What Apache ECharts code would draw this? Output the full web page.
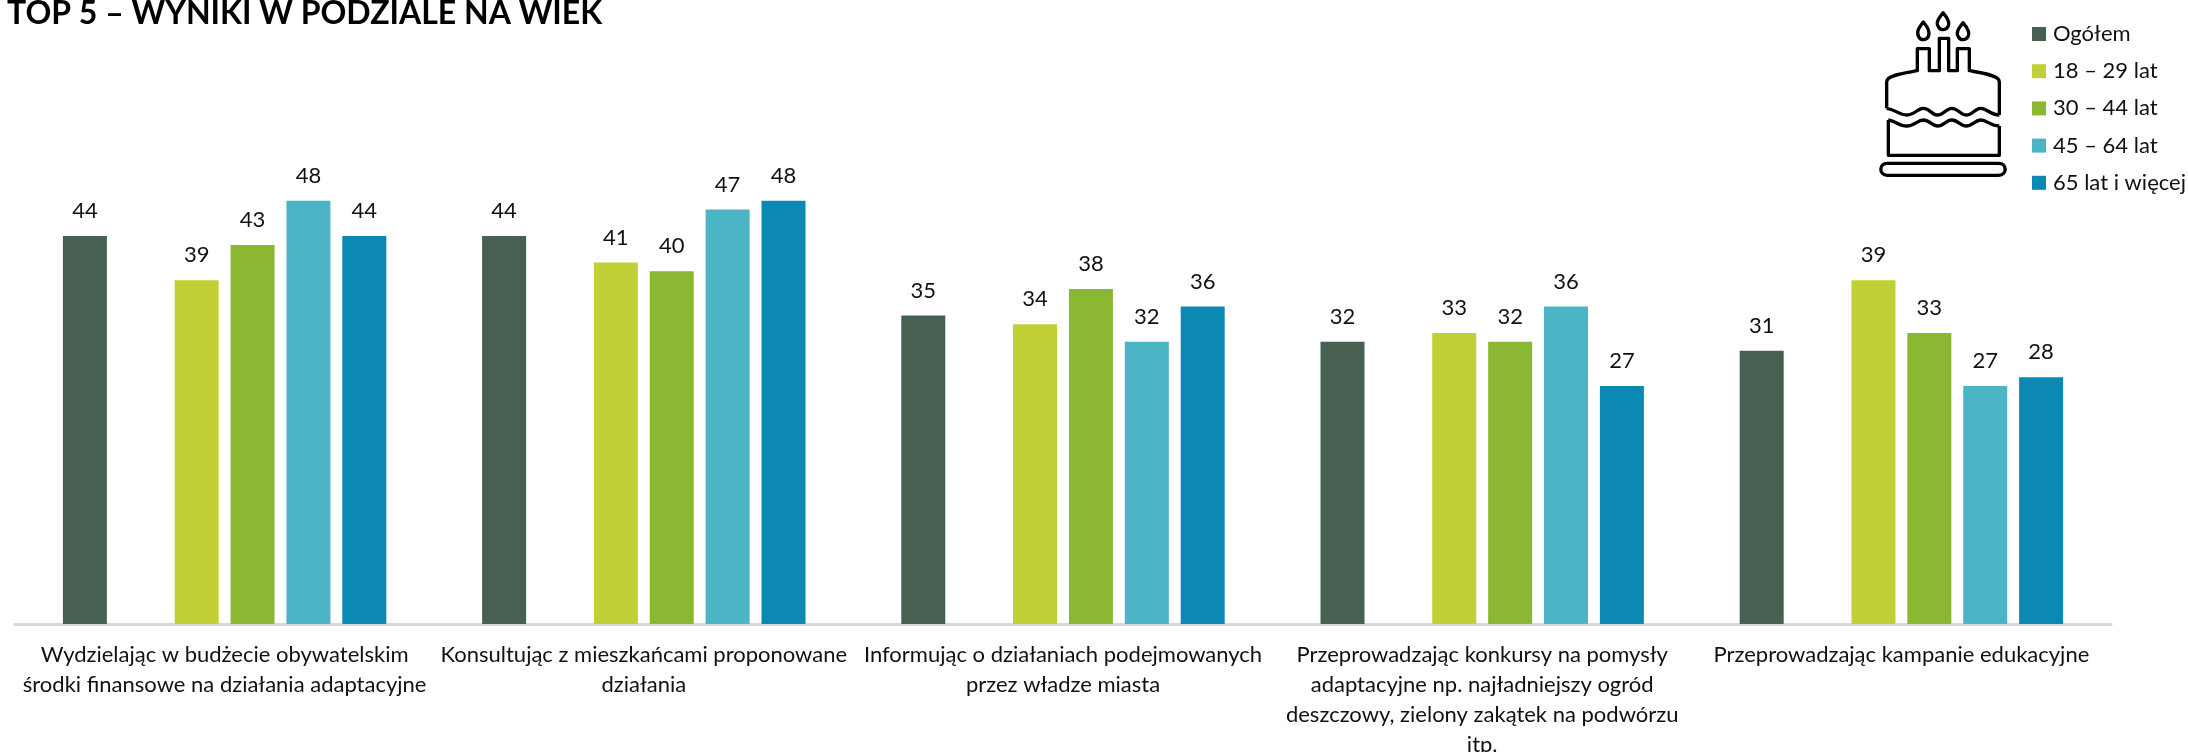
<!DOCTYPE html>
<html>
<head>
<meta charset="utf-8">
<style>html,body{margin:0;padding:0;background:#fff}#c{width:2188px;height:752px}</style>
<script src="https://cdn.jsdelivr.net/npm/echarts@6/dist/echarts.min.js"></script>
</head>
<body>
<div id="c"></div>
<script>
const titleText = 'TOP 5 – WYNIKI W PODZIALE NA WIEK';
const categories = [
  'Wydzielając w budżecie obywatelskim\nśrodki finansowe na działania adaptacyjne',
  'Konsultując z mieszkańcami proponowane\ndziałania',
  'Informując o działaniach podejmowanych\nprzez władze miasta',
  'Przeprowadzając konkursy na pomysły\nadaptacyjne np. najładniejszy ogród\ndeszczowy, zielony zakątek na podwórzu\nitp.',
  'Przeprowadzając kampanie edukacyjne'
];
const seriesNames = ['Ogółem', '18 – 29 lat', '30 – 44 lat', '45 – 64 lat', '65 lat i więcej'];
const colors = ['#466151', '#c1d037', '#8ab833', '#4bb5c5', '#0b89b3'];
const ogolem = [44, 44, 35, 32, 31];
const spacer = [null, null, null, null, null];
const age18 = [39, 41, 34, 33, 39];
const age30 = [43, 40, 38, 32, 33];
const age45 = [48, 47, 32, 36, 27];
const age65 = [44, 48, 36, 27, 28];
const FONT = 'Lato';

const barSeries = (name, data, color) => ({
  name, type: 'bar', data,
  barWidth: 44, barGap: '27%',
  itemStyle: { color },
  label: { show: true, position: 'top', distance: 14, fontFamily: FONT, fontSize: 22, color: '#111' }
});

const cake = [
  'M250 66 C236 84 228 96 236 110 C242 122 258 122 265 110 C272 96 262 80 250 66 Z',
  'M309 38 C295 56 287 68 295 80 C301 92 317 92 324 80 C331 68 321 52 309 38 Z',
  'M369 68 C355 86 347 98 355 110 C361 122 377 122 384 110 C391 98 381 82 369 68 Z',
  'M140 325 L140 245 C140 225 200 218 232 212 L232 146 L268 146 L268 212 L298 212 L298 115 L326 115 L326 212 L352 212 L352 146 L388 146 L388 212 C420 218 478 225 478 245 L478 345',
  'M140 325 C165 328 178 345 200 345 C225 345 232 325 250 325 C270 325 275 345 292 345 C312 345 318 325 335 325 C355 325 360 345 378 345 C398 345 405 325 422 325 C442 325 450 345 478 345',
  'M145 360 L145 466 L478 466 L478 378',
  'M145 360 C165 362 178 378 200 378 C225 378 232 360 250 360 C270 360 275 378 292 378 C312 378 318 360 335 360 C355 360 360 378 378 378 C398 378 405 360 422 360 C442 360 450 378 478 378',
  'M142 490 L476 490 C502 490 502 526 476 526 L142 526 C116 526 116 490 142 490 Z'
].join(' ');
echarts.graphic.registerShape('cakeIcon', echarts.graphic.extendPath(cake, {}));

const chart = echarts.init(document.getElementById('c'), null, { renderer: 'canvas' });
chart.setOption({
  animation: false,
  backgroundColor: '#fff',
  title: {
    text: titleText, left: 2, top: -7,
    textStyle: { fontFamily: FONT, fontWeight: 'bold', fontSize: 32, color: '#000' }
  },
  legend: {
    data: seriesNames, orient: 'vertical', left: 2027, top: 18,
    icon: 'rect', itemWidth: 14, itemHeight: 14, itemGap: 15.2,
    textStyle: { fontFamily: FONT, fontSize: 22, color: '#111', padding: [0, 0, 0, 2], lineHeight: 20 }
  },
  grid: { left: 15, right: 77, top: 95, bottom: 128, outerBoundsMode: 'none' },
  xAxis: {
    type: 'category', data: categories,
    axisTick: { show: false },
    axisLine: { lineStyle: { color: '#d9d9d9', width: 3 } },
    axisLabel: { interval: 0, margin: 16, fontFamily: FONT, fontSize: 22, lineHeight: 30, color: '#111', align: 'center' }
  },
  yAxis: { type: 'value', min: 0, max: 60, show: false, splitLine: { show: false } },
  series: [
    barSeries(seriesNames[0], ogolem, colors[0]),
    barSeries('spacer', spacer, 'transparent'),
    barSeries(seriesNames[1], age18, colors[1]),
    barSeries(seriesNames[2], age30, colors[2]),
    barSeries(seriesNames[3], age45, colors[3]),
    barSeries(seriesNames[4], age65, colors[4])
  ],
  graphic: [{
    type: 'cakeIcon', x: 1840, y: 0, scaleX: 1 / 3, scaleY: 1 / 3, silent: true,
    style: { fill: 'none', stroke: '#000', lineWidth: 10, lineJoin: 'round' }
  }]
});
</script>
</body>
</html>
